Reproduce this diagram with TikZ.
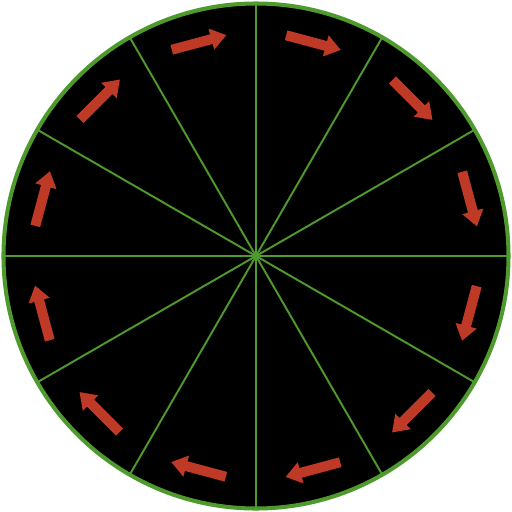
\documentclass[tikz,border=0pt]{standalone}
\definecolor{rimgreen}{RGB}{78,154,44}
\definecolor{arrowred}{RGB}{190,58,38}
\begin{document}
\begin{tikzpicture}[x=0.02cm,y=0.02cm,
  rim/.style={draw=rimgreen,line width=2.3pt,fill=black},
  spoke/.style={draw=rimgreen,line width=1.1pt},
  redarrow/.style={fill=arrowred,draw=none}]
\useasboundingbox (-256,-256) rectangle (256,256);
\coordinate (O) at (0,0);
\draw[rim] (O) circle (252.5);
\foreach \a in {0,30,...,330}{
  \draw[spoke] (O) -- (\a:251);
}
\foreach \a in {15,45,...,345}{
  \begin{scope}[shift={(\a:221)},rotate=\a-90]
    \fill[redarrow] (-28,-5) -- (13,-5) -- (13,-11) -- (28.5,0) -- (13,11) -- (13,5) -- (-28,5) -- cycle;
  \end{scope}
}
\end{tikzpicture}
\end{document}
